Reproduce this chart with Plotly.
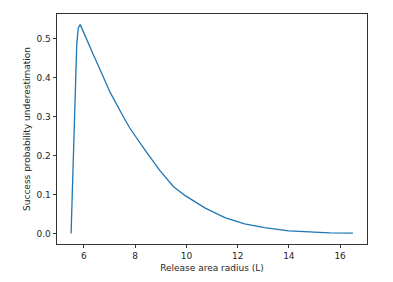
import plotly.graph_objects as go

radius = [5.50, 5.58, 5.65, 5.72, 5.78, 5.85, 5.90, 6.04, 6.37, 6.69, 7.02, 7.54, 7.79,
          8.38, 8.96, 9.49, 9.94, 10.72, 11.5, 12.27, 13.05, 14.0, 14.8, 15.6, 16.5]
prob = [0.0, 0.18, 0.37, 0.485, 0.527, 0.537, 0.530, 0.510, 0.459, 0.412, 0.363, 0.300, 0.271,
        0.215, 0.162, 0.121, 0.098, 0.066, 0.041, 0.025, 0.015, 0.007, 0.004, 0.002, 0.001]
x_ticks = [6, 8, 10, 12, 14, 16]
y_ticks = [0.0, 0.1, 0.2, 0.3, 0.4, 0.5]

fig = go.Figure(go.Scatter(x=radius, y=prob, mode="lines",
                           line=dict(color="#1f77b4", width=1.3)))

font = dict(family="DejaVu Sans", size=9, color="#262626")
axis_common = dict(showline=True, linecolor="#333333", linewidth=0.8, mirror=True,
                   ticks="outside", ticklen=3.5, tickwidth=0.8, tickcolor="#333333",
                   showgrid=False, zeroline=False, tickfont=font, automargin=False)

fig.update_layout(
    width=393, height=282,
    margin=dict(l=57, r=26, t=14, b=38),
    paper_bgcolor="white", plot_bgcolor="white",
    showlegend=False,
    xaxis=dict(range=[4.95, 17.05], tickvals=x_ticks,
               title=dict(text="Release area radius (L)", font=font, standoff=4),
               **axis_common),
    yaxis=dict(range=[-0.0268, 0.5637], tickvals=y_ticks, tickformat=".1f",
               title=dict(text="Success probability underestimation", font=font, standoff=4),
               **axis_common),
)

fig.write_html("out.html", config={"displayModeBar": False},
               post_script="document.body.style.margin='0';document.body.style.overflow='hidden';")
